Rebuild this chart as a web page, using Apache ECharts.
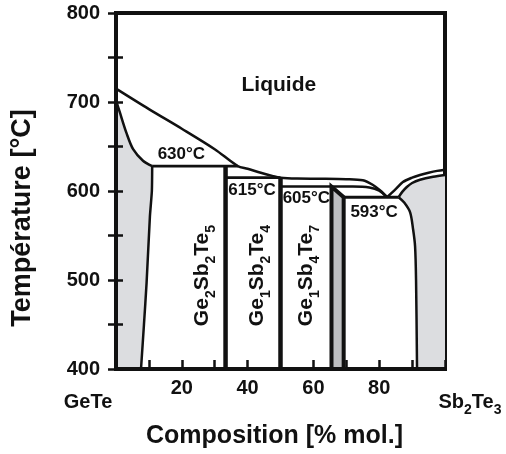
<!DOCTYPE html>
<html><head><meta charset="utf-8">
<script src="https://cdn.jsdelivr.net/npm/echarts@6/dist/echarts.min.js"></script>
<style>html,body{margin:0;padding:0;background:#fff}#c{width:506px;height:454px}</style>
</head><body><div id="c"></div>
<script>
const FONT = '"Liberation Sans", Arial, Helvetica, sans-serif';
const INK = '#111111';
const GRAY = '#dcdde0';
const GRAY_DARK = '#bdbec1';

// ---- axes ----
const xMin = 0, xMax = 100, xStep = 10;
const yMin = 400, yMax = 800, yStep = 50;
const xTickLabels = [20, 40, 60, 80];
const yTickLabels = [400, 500, 600, 700, 800];
const endMembers = ['GeTe', 'Sb2Te3'];

// ---- phase boundaries [composition % mol. Sb2Te3, T °C] ----
const liquidus = [[0,715],[10,692],[20,670],[30,647],[37,628],[40,625],[44,620.5],[47.5,617],[50,615],[55,614],[62,613.8],[70,613.3],[75,612],[78,607],[80.5,600],[82.4,593]];
const liquidus605 = [[50,605],[72,605],[77,604],[80,600.5],[82.4,593]];
const liquidusSb = [[82.4,593],[85,602],[87.2,610],[90,615],[92.4,618],[95,620.5],[97.6,622.6],[100,624]];
const solidusSb = [[85.9,593],[87,599],[88.4,604.5],[90,609],[92.4,612.6],[96.4,616],[100,618]];
const solvusSb = [[85.9,593],[87.6,587],[89.4,576],[90.3,557],[90.9,538],[91.2,500],[91.5,400]];
const solidusGe = [[0,702],[1.2,688],[3.2,665],[5.2,647],[8.2,634],[11,628]];
const solvusGe = [[11,628],[10.9,600],[10.3,571],[9.3,497],[8.5,450],[7.6,400]];

// ---- invariant reactions ----
const invariantT = [630, 615, 605, 593];
const invariantLabels = ['630°C', '615°C', '605°C', '593°C'];
const invariantLabelAt = [[12.5,641.5],[34,600.6],[50.5,592.2],[71.1,576]];
const line630 = [[11,628],[37,628]];
const line615 = [[33.3,615],[50,615]];
const line593 = [[69.2,593],[85.9,593]];

// ---- compounds ----
const compounds = [['Ge','2','Sb','2','Te','5'],['Ge','1','Sb','2','Te','4'],['Ge','1','Sb','4','Te','7']];
const compoundLabelAt = [[26.3,505],[42.9,505],[57.8,505]];
const gst225 = [[33.3,400],[33.3,628]];
const gst124 = [[50,400],[50,615]];
const gst147 = [[65.5,400],[65.5,605],[69.2,593],[69.2,400]];

const liquidText = 'Liquide';
const liquidLabelAt = [49.5, 719];

// ---- build ----
const grayGe = solidusGe.concat(solvusGe.slice(1), [[0,400]]);
const graySb = solidusSb.concat([[100,400]], solvusSb.slice().reverse().slice(0, -1));

function poly(pts, color) {
  return {
    type: 'custom', coordinateSystem: 'cartesian2d', z: 1, silent: true,
    data: [pts[0]],
    renderItem: function (params, api) {
      return { type: 'polygon', shape: { points: pts.map(p => api.coord(p)) }, style: { fill: color } };
    }
  };
}
function line(pts, width, smooth) {
  return {
    type: 'line', data: pts, showSymbol: false, symbol: 'none', z: 3, silent: true,
    smooth: smooth || false,
    lineStyle: { color: INK, width: width, cap: 'butt', join: 'miter' }
  };
}
function rich(parts) {
  return parts.map((p, i) => (i % 2 === 0 ? '{g|' + p + '}' : '{s|' + p + '}')).join('');
}

const annotations = [];
annotations.push({ value: liquidLabelAt, label: { formatter: liquidText, position: 'inside', fontSize: 21 } });
invariantLabels.forEach((t, i) => annotations.push({
  value: invariantLabelAt[i], label: { formatter: t, position: 'right', distance: 0, fontSize: 17 }
}));
compounds.forEach((c, i) => annotations.push({
  value: compoundLabelAt[i], label: { formatter: rich(c), position: 'inside', rotate: 90 }
}));

const axisLineStyle = { show: true, lineStyle: { color: INK, width: 4 } };

const option = {
  animation: false,
  backgroundColor: '#ffffff',
  textStyle: { fontFamily: FONT },
  grid: { left: 116, right: 61, top: 13, bottom: 84.5, show: true, borderColor: INK, borderWidth: 4, backgroundColor: 'transparent' },
  xAxis: [
    {
      type: 'value', min: xMin, max: xMax, interval: xStep, position: 'bottom', z: 10,
      axisLine: axisLineStyle,
      axisTick: { show: true, inside: true, length: 9, lineStyle: { color: INK, width: 2.5 } },
      splitLine: { show: false },
      axisLabel: {
        margin: 9, color: INK, fontSize: 20, fontWeight: 'bold', fontFamily: FONT,
        formatter: v => (xTickLabels.indexOf(v) >= 0 ? String(v) : '')
      },
      name: 'Composition [% mol.]', nameLocation: 'middle', nameGap: 55,
      nameTextStyle: { color: INK, fontSize: 25, fontWeight: 'bold', fontFamily: FONT, padding: [0, 12, 0, 0] }
    },
    {
      type: 'value', min: xMin, max: xMax, interval: 100, position: 'bottom', offset: 9, z: 10,
      axisLine: { show: false }, axisTick: { show: false }, splitLine: { show: false },
      axisLabel: {
        margin: 9, color: INK, fontFamily: FONT,
        formatter: v => (v === 0 ? '{ge|' + endMembers[0] + '}' : v === 100 ? '{sb|Sb}{s|2}{g|Te}{s|3}' : ''),
        rich: {
          ge: { fontSize: 20, fontWeight: 'bold', lineHeight: 30, verticalAlign: 'middle', padding: [0, 56, 0, 0], color: INK, fontFamily: FONT },
          sb: { fontSize: 20, fontWeight: 'bold', lineHeight: 30, verticalAlign: 'middle', padding: [0, 0, 0, 50], color: INK, fontFamily: FONT },
          g: { fontSize: 20, fontWeight: 'bold', lineHeight: 30, verticalAlign: 'middle', color: INK, fontFamily: FONT },
          s: { fontSize: 14, fontWeight: 'bold', lineHeight: 30, verticalAlign: 'bottom', color: INK, fontFamily: FONT }
        }
      }
    },
    {
      type: 'value', min: xMin, max: xMax, interval: xStep, position: 'top', z: 10,
      axisLine: axisLineStyle, axisTick: { show: false }, axisLabel: { show: false }, splitLine: { show: false }
    }
  ],
  yAxis: [
    {
      type: 'value', min: yMin, max: yMax, interval: yStep, position: 'left', z: 10,
      axisLine: axisLineStyle,
      axisTick: { show: true, inside: true, length: 7, lineStyle: { color: INK, width: 2.5 } },
      splitLine: { show: false },
      axisLabel: {
        margin: 16, color: INK, fontSize: 20, fontWeight: 'bold', fontFamily: FONT,
        formatter: v => (yTickLabels.indexOf(v) >= 0 ? String(v) : '')
      },
      name: 'Température [°C]', nameLocation: 'middle', nameRotate: 90, nameGap: 80,
      nameTextStyle: { color: INK, fontSize: 27, fontWeight: 'bold', fontFamily: FONT, padding: [0, 54, 0, 0] }
    },
    {
      type: 'value', min: yMin, max: yMax, interval: yStep, position: 'right', z: 10,
      axisLine: axisLineStyle,
      axisTick: { show: true, inside: true, length: 8, lineStyle: { color: INK, width: 2.5 } },
      axisLabel: { show: false }, splitLine: { show: false }
    }
  ],
  series: [
    poly(grayGe, GRAY),
    poly(graySb, GRAY),
    poly(gst147, GRAY_DARK),
    line(liquidus, 2.5, 0.3),
    line(liquidus605, 2.5, 0.3),
    line(liquidusSb, 2.5, 0.3),
    line(solidusSb, 2.5, 0.3),
    line(solvusSb, 2.5, 0.3),
    line(solidusGe, 2.5, 0.3),
    line(solvusGe, 2.5, 0.2),
    line(line630, 2.8),
    line(line615, 2.8),
    line(line593, 2.8),
    line(gst225, 4.5),
    line(gst124, 4.5),
    line(gst147, 4),
    {
      type: 'scatter', z: 5, silent: true, symbolSize: 1,
      itemStyle: { color: 'rgba(0,0,0,0)', opacity: 1 },
      emphasis: { disabled: true },
      data: annotations,
      label: {
        show: true, color: INK, opacity: 1, fontWeight: 'bold', fontFamily: FONT,
        rich: {
          g: { fontSize: 21, fontWeight: 'bold', lineHeight: 32, verticalAlign: 'middle', color: INK, fontFamily: FONT },
          s: { fontSize: 14, fontWeight: 'bold', lineHeight: 32, verticalAlign: 'bottom', color: INK, fontFamily: FONT }
        }
      }
    }
  ]
};

const chart = echarts.init(document.getElementById('c'), null, { renderer: 'canvas' });
chart.setOption(option);
</script>
</body></html>
